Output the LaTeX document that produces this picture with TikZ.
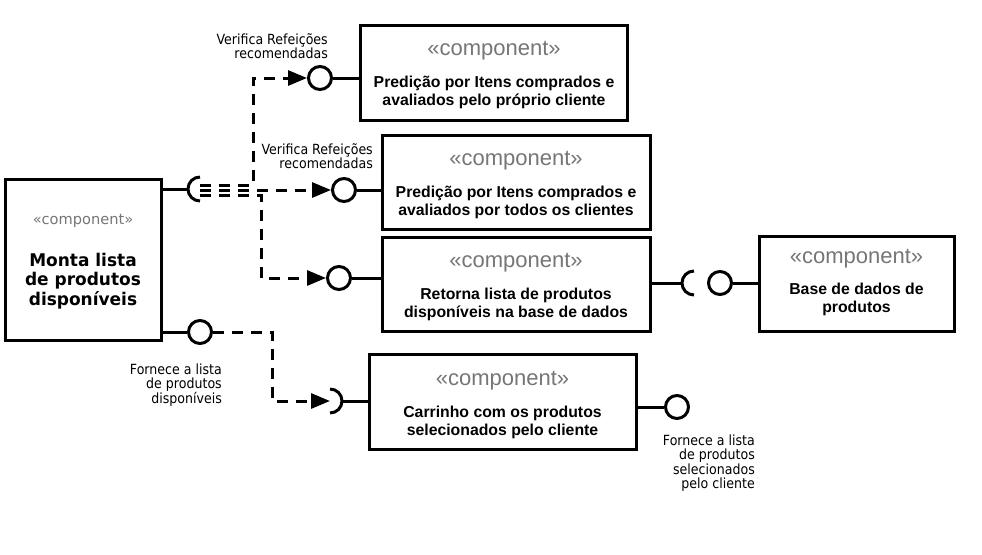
\documentclass[tikz,border=0pt]{standalone}
\usepackage{fontspec}
\setmainfont{Liberation Sans}
\newfontfamily\verd{DejaVu Sans}[FakeStretch=0.9]
\newfontfamily\verdwide{DejaVu Sans}[FakeStretch=0.97]
\newfontfamily\verdn{DejaVu Sans}
\usetikzlibrary{arrows.meta}
\definecolor{stereogray}{RGB}{118,118,118}
\tikzset{
  comp/.style={draw, line width=3pt, inner sep=0pt},
  conn/.style={line width=3pt},
  lolly/.style={circle, draw, line width=3pt, minimum size=23pt, inner sep=0pt},
  dep/.style={line width=3pt, dash pattern=on 11pt off 8pt, -{Triangle[length=19pt,width=15pt]}},
  stereo/.style={anchor=base, inner sep=0pt, text=stereogray, font=\fontsize{22}{26}\selectfont},
  bodytxt/.style={anchor=base, inner sep=0pt, align=center, font=\fontsize{15.8}{18}\selectfont\bfseries},
  lbl/.style={anchor=base east, inner sep=0pt, align=right, font=\verd\fontsize{14}{14.5}\selectfont},
}
\begin{document}
\begin{tikzpicture}[x=1pt,y=-1pt]
\useasboundingbox[fill=white] (0,0) rectangle (982,554);

% boxes
\node[comp, minimum width=156pt, minimum height=161pt] (A) at (83,259.5) {};
\node[comp, minimum width=267pt, minimum height=95pt] (B) at (493.5,72.5) {};
\node[comp, minimum width=268pt, minimum height=94pt] (C) at (516,182) {};
\node[comp, minimum width=268pt, minimum height=94pt] (D) at (516,284) {};
\node[comp, minimum width=195pt, minimum height=95pt] (E) at (856.5,283.5) {};
\node[comp, minimum width=267pt, minimum height=95pt] (F) at (502.5,401.5) {};

% box texts (multi-line nodes: base = last line's baseline)
\node[anchor=base, inner sep=0pt, text=stereogray, font=\verdn\fontsize{14.6}{17}\selectfont] (At) at (83,224) {«component»};
\node[anchor=base, inner sep=0pt, align=center, font=\verdwide\bfseries\fontsize{17.5}{19.5}\selectfont] (Ab) at (83,305) {Monta lista\\de produtos\\disponíveis};

\node[stereo] (Bt) at (494,55) {«component»};
\node[bodytxt] (Bb) at (494,105) {Predição por Itens comprados e\\avaliados pelo próprio cliente};
\node[stereo] (Ct) at (516,165) {«component»};
\node[bodytxt] (Cb) at (516,215) {Predição por Itens comprados e\\avaliados por todos os clientes};
\node[stereo] (Dt) at (516,267) {«component»};
\node[bodytxt] (Db) at (516,317) {Retorna lista de produtos\\disponíveis na base de dados};
\node[stereo] (Et) at (856.5,263) {«component»};
\node[bodytxt] (Eb) at (856.5,312) {Base de dados de\\produtos};
\node[stereo] (Ft) at (502.5,385) {«component»};
\node[bodytxt] (Fb) at (502.5,435) {Carrinho com os produtos\\selecionados pelo cliente};

% provided interfaces (lollipops)
\node[lolly] (pB) at (320,78) {};
\node[lolly] (pC) at (344,190) {};
\node[lolly] (pD) at (339,278) {};
\node[lolly] (pE) at (720,283) {};
\node[lolly] (pA) at (200,332) {};
\node[lolly] (pF) at (677,407) {};

\draw[conn] (pB.east) -- (pB.east -| B.west);
\draw[conn] (pC.east) -- (pC.east -| C.west);
\draw[conn] (pD.east) -- (pD.east -| D.west);
\draw[conn] (pE.east) -- (pE.east -| E.west);
\draw[conn] (pA.west -| A.east) -- (pA.west);
\draw[conn] (pF.west -| F.east) -- (pF.west);

% required interfaces (sockets)
\coordinate (sA) at (200,189);
\coordinate (sE) at (694,283);
\coordinate (sF) at (330,401);
\draw[conn] (sA) ++(0,-12) arc[start angle=270, end angle=90, radius=12];
\draw[conn] (sE) ++(0,-12) arc[start angle=270, end angle=90, radius=12];
\draw[conn] (sF) ++(0,-12) arc[start angle=-90, end angle=90, radius=12];
\draw[conn] (sA -| A.east) -- ([xshift=-12pt]sA);
\draw[conn] (sE -| D.east) -- ([xshift=-12pt]sE);
\draw[conn] ([xshift=12pt]sF) -- (sF -| F.west);

% dependencies
\coordinate (sAt) at (200,185);
\coordinate (sAm) at (200,190);
\coordinate (sAb) at (200,195);
\draw[dep] (sAt) -| ([xshift=-54pt]pB.west) -- (pB.west);
\draw[dep] (sAm) -- (pC.west);
\draw[dep] (sAb) -| ([xshift=-65pt]pD.west) -- (pD.west);
\draw[dep] (pA.east) -| ([xshift=-58pt]sF) -- (sF);

% labels
\node[lbl] (l1) at (328,58.5) {Verifica Refeições\\recomendadas};
\node[lbl] (l2) at (373,168.5) {Verifica Refeições\\recomendadas};
\node[lbl] (l3) at (222,403) {Fornece a lista\\de produtos\\disponíveis};
\node[lbl] (l4) at (755,488.5) {Fornece a lista\\de produtos\\selecionados\\pelo cliente};
\end{tikzpicture}
\end{document}
